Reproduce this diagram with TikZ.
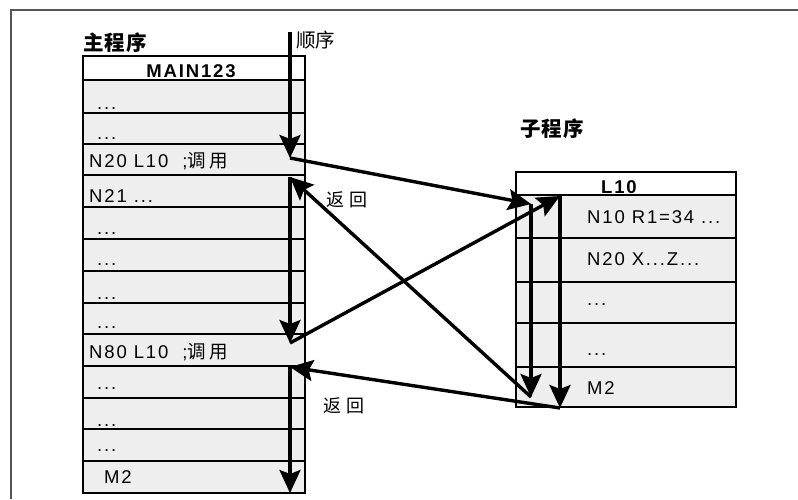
\documentclass[tikz,border=0pt]{standalone}
\usepackage{fontspec}
\setmainfont[LetterSpace=10]{Liberation Sans}
\newfontfamily\cjk{Noto Sans CJK SC}
\usetikzlibrary{arrows.meta}
\definecolor{cellgray}{HTML}{EEEEEE}
\definecolor{framegray}{HTML}{555555}

\begin{document}
\begin{tikzpicture}[x=1pt,y=-1pt,
  flow/.style={line width=3.4pt,-{Stealth[length=23pt,width=21pt,inset=4pt]}},
  cell/.style={fill=cellgray,draw=black,line width=2.3pt},
  headcell/.style={fill=white,draw=black,line width=2.5pt},
  celltext/.style={inner sep=0pt,anchor=base west,font=\fontsize{18.5}{21}\selectfont},
  title/.style={inner sep=0pt,anchor=base west,font=\fontsize{20.5}{24}\selectfont\cjk\bfseries},
  note/.style={inner sep=0pt,font=\fontsize{18}{20}\selectfont\cjk}]
\useasboundingbox (0,0) rectangle (798,499);
\draw[framegray,line width=1.5pt] (798,10) -- (11,10) -- (11,499);

% main program
\node[title] (maintitle) at (83,50) {主\hspace{1pt}程\hspace{1pt}序};
\draw[headcell] (83,56) rectangle (305,80);
\node[celltext,anchor=base,font=\fontsize{18.5}{21}\selectfont\bfseries] (mainhead) at (191,77) {MAIN123};
\foreach \n/\t/\b/\x/\base/\txt in {1/80/113/97/109/{...},2/113/144/97/139/{...},
  3/144/175/89/167/{N20 L10\ \ ;{\cjk 调\hspace{3pt}用}},4/175/207/89/202/{N21 ...},
  5/207/239/97/234/{...},6/239/271/97/265/{...},7/271/303/97/299/{...},
  8/303/334/97/328/{...},9/334/366/89/358/{N80 L10\ \ ;{\cjk 调\hspace{3pt}用}},
  10/366/398/97/389/{...},11/398/429/97/426/{...},12/429/461/97/451/{...},
  13/461/493/104/483/{M2}} {
  \draw[cell] (83,\t) rectangle (305,\b);
  \node[celltext] (main\n) at (\x,\base) {\txt};
}

% sub program
\node[title] (subtitle) at (520,136) {子\hspace{1pt}程\hspace{1pt}序};
\draw[headcell] (516,172) rectangle (736,195);
\node[celltext,anchor=base,font=\fontsize{18.5}{21}\selectfont\bfseries] (subhead) at (619,193) {L10};
\foreach \n/\t/\b/\base/\txt in {1/195/238/223/{N10 R1=34 ...},2/238/282/265/{N20 X...Z...},
  3/282/323/305/{...},4/323/367/355/{...},5/367/407/394/{M2}} {
  \draw[cell] (516,\t) rectangle (736,\b);
  \node[celltext] (sub\n) at (587,\base) {\txt};
}

% flow of control
\coordinate (seqtop) at (290,32);
\coordinate (call1) at (290,158);
\coordinate (ret1) at (290,177);
\coordinate (call2) at (290,343);
\coordinate (ret2) at (290,367);
\coordinate (mainend) at (290,493);
\coordinate (in1) at (531,204);
\coordinate (out1) at (531,397);
\coordinate (in2) at (560,196);
\coordinate (out2) at (560,408);
\node[note,anchor=base west,font=\fontsize{19.5}{22}\selectfont\cjk] (seqlabel) at (296,47) {顺序};

\draw[flow] (seqtop) -- (call1);
\draw[flow] (call1) -- (in1);
\draw[flow] (in1) -- (out1);
\draw[flow] (out1) -- (ret1);
\draw[flow] (ret1) -- (call2);
\draw[flow] (call2) -- (in2);
\draw[flow] (in2) -- (out2);
\draw[flow] (out2) -- (ret2);
\draw[flow] (ret2) -- (mainend);

\node[note] (back1) at (347,200) {返\hspace{5pt}回};
\node[note] (back2) at (344,406) {返\hspace{5pt}回};
\end{tikzpicture}
\end{document}
